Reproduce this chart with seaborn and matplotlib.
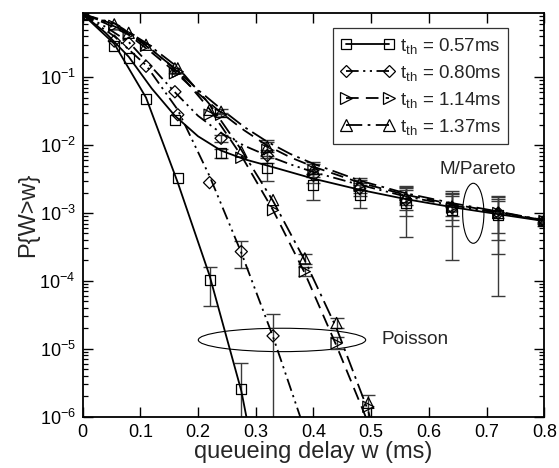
import numpy as np
import pandas as pd
import matplotlib
matplotlib.use('Agg')
import matplotlib.pyplot as plt
import seaborn as sns
from matplotlib.lines import Line2D
from matplotlib.patches import Ellipse
from matplotlib.ticker import LogLocator, MultipleLocator, NullFormatter, FuncFormatter

# ---------------- data ----------------
labels = ["0.57ms", "0.80ms", "1.14ms", "1.37ms"]

# Poisson simulation points
w_poi = [0, 0.055, 0.11, 0.165, 0.22, 0.275, 0.33, 0.385, 0.44, 0.495]
poi_sq = [0.85, 0.29, 0.048, 3.3e-3, 1.03e-4, 2.6e-6]
poi_dia = [0.85, 0.34, 0.145, 0.028, 2.8e-3, 2.7e-4, 1.55e-5]
poi_rtri = [0.85, 0.57, 0.29, 0.12, 0.028, 6.5e-3, 1.1e-3, 1.37e-4, 1.2e-5, 1.4e-6]
poi_utri = [0.85, 0.60, 0.30, 0.135, 0.033, 8.0e-3, 1.55e-3, 2.15e-4, 2.4e-5, 1.6e-6]

# Poisson analytic curves
w_poi_line = [0, 0.055, 0.11, 0.165, 0.22, 0.275, 0.33, 0.385, 0.44, 0.495, 0.55]
poi_sq_line = [0.85, 0.31, 0.05, 2.8e-3, 1.2e-4, 2.4e-6, 1e-8]
poi_dia_line = [0.85, 0.40, 0.15, 0.033, 3.5e-3, 2.6e-4, 1.5e-5, 6.3e-7, 1e-8]
poi_rtri_line = [0.85, 0.60, 0.30, 0.12, 0.034, 7.0e-3, 1.1e-3, 1.3e-4, 1.1e-5, 8e-7, 1e-8]
poi_utri_line = [0.85, 0.62, 0.32, 0.14, 0.040, 8.5e-3, 1.5e-3, 2.0e-4, 2.0e-5, 1.2e-6, 2e-8]

# M/Pareto simulation points
w_par = [0, 0.08, 0.16, 0.24, 0.32, 0.40, 0.48, 0.56, 0.64, 0.72, 0.80]
par_sq = [0.85, 0.19, 0.0234, 7.6e-3, 4.55e-3, 2.6e-3, 1.85e-3, 1.4e-3, 1.1e-3, 9.5e-4, 7.5e-4]
par_dia = [0.85, 0.316, 0.061, 0.0126, 7.0e-3, 3.6e-3, 2.3e-3, 1.55e-3, 1.2e-3, 1.0e-3, 7.6e-4]
par_rtri = [0.85, 0.42, 0.114, 0.028, 8.5e-3, 4.2e-3, 2.5e-3, 1.6e-3, 1.2e-3, 1.0e-3, 7.6e-4]
par_utri = [0.85, 0.45, 0.135, 0.031, 9.5e-3, 4.5e-3, 2.7e-3, 1.7e-3, 1.25e-3, 1.0e-3, 7.7e-4]

# M/Pareto error bars (lower / upper), NaN = none
par_sq_lo = [np.nan, np.nan, np.nan, 6.5e-3, 3.0e-3, 1.55e-3, 1.2e-3, 4.4e-4, 2.0e-4, 6.0e-5, 6.5e-4]
par_sq_hi = [np.nan, np.nan, np.nan, 8.8e-3, 6.5e-3, 3.8e-3, 2.6e-3, 2.5e-3, 2.1e-3, 1.8e-3, 8.5e-4]
par_dia_lo = [np.nan, np.nan, np.nan, 1.1e-2, 5.5e-3, 2.8e-3, 1.8e-3, 9.0e-4, 6.5e-4, 2.5e-4, 7.0e-4]
par_dia_hi = [np.nan, np.nan, np.nan, 1.4e-2, 8.5e-3, 4.5e-3, 2.8e-3, 2.2e-3, 1.8e-3, 1.5e-3, 8.2e-4]
par_rtri_lo = [np.nan, np.nan, np.nan, 2.6e-2, 7.0e-3, 3.4e-3, 2.0e-3, 1.1e-3, 8.0e-4, 4.0e-4, 7.2e-4]
par_rtri_hi = [np.nan, np.nan, np.nan, 3.0e-2, 1.1e-2, 5.3e-3, 3.1e-3, 2.3e-3, 1.9e-3, 1.6e-3, 8.2e-4]
par_utri_lo = [np.nan, np.nan, np.nan, 2.9e-2, 8.0e-3, 3.8e-3, 2.2e-3, 1.3e-3, 9.0e-4, 5.0e-4, 7.3e-4]
par_utri_hi = [np.nan, np.nan, np.nan, 3.4e-2, 1.2e-2, 5.6e-3, 3.3e-3, 2.4e-3, 2.0e-3, 1.7e-3, 8.3e-4]

# M/Pareto analytic curves
w_par_line = [0, 0.04, 0.08, 0.12, 0.16, 0.20, 0.24, 0.28, 0.32, 0.36, 0.40, 0.48, 0.56, 0.64, 0.72, 0.80]
par_sq_line = [0.85, 0.45, 0.20, 0.068, 0.027, 0.0135, 8.3e-3, 6.2e-3, 5.0e-3, 4.0e-3, 3.2e-3, 2.2e-3, 1.6e-3, 1.22e-3, 9.6e-4, 7.6e-4]
par_dia_line = [0.85, 0.55, 0.33, 0.14, 0.060, 0.027, 0.015, 9.8e-3, 7.0e-3, 5.2e-3, 4.0e-3, 2.6e-3, 1.75e-3, 1.3e-3, 1.0e-3, 7.7e-4]
par_rtri_line = [0.85, 0.62, 0.42, 0.23, 0.12, 0.058, 0.030, 0.0165, 9.8e-3, 6.6e-3, 4.8e-3, 2.8e-3, 1.85e-3, 1.35e-3, 1.03e-3, 7.8e-4]
par_utri_line = [0.85, 0.64, 0.45, 0.25, 0.135, 0.065, 0.034, 0.0185, 0.0112, 7.4e-3, 5.3e-3, 3.0e-3, 1.95e-3, 1.4e-3, 1.05e-3, 7.8e-4]

# Poisson error bars: (w, lower, upper)
poi_err_w = [0.22, 0.275, 0.275, 0.33, 0.385, 0.385, 0.44, 0.44, 0.495]
poi_err_lo = [4.2e-5, 1e-7, 1.54e-4, 1e-7, 1.8e-4, 1.2e-4, 2.0e-5, 1.0e-5, 1e-7]
poi_err_hi = [1.6e-4, 6.1e-6, 3.9e-4, 3.3e-5, 2.5e-4, 1.6e-4, 2.8e-5, 1.5e-5, 2.1e-6]

# ---------------- style ----------------
sns.set_theme(style='ticks')
plt.rcParams['font.family'] = ['Liberation Sans', 'DejaVu Sans']
plt.rcParams['mathtext.fontset'] = 'custom'
plt.rcParams['mathtext.rm'] = 'Liberation Sans'
plt.rcParams['mathtext.it'] = 'Liberation Sans'
plt.rcParams['mathtext.bf'] = 'Liberation Sans:bold'

fig = plt.figure(figsize=(5.59, 4.68), dpi=100)
ax = fig.add_axes([0.1476, 0.1096, 0.8264, 0.8633])

styles = [
    dict(marker='s', ls='-', ms=7.2),
    dict(marker='D', ls=(0, (7, 2.5, 1.2, 2.5, 1.2, 2.5)), ms=6.2),
    dict(marker='>', ls=(0, (7, 4)), ms=8.0),
    dict(marker='^', ls=(0, (9, 3, 1.5, 3)), ms=8.0),
]

poi_pts = [poi_sq, poi_dia, poi_rtri, poi_utri]
poi_lines = [poi_sq_line, poi_dia_line, poi_rtri_line, poi_utri_line]
par_pts = [par_sq, par_dia, par_rtri, par_utri]
par_lines = [par_sq_line, par_dia_line, par_rtri_line, par_utri_line]
par_lo = [par_sq_lo, par_dia_lo, par_rtri_lo, par_utri_lo]
par_hi = [par_sq_hi, par_dia_hi, par_rtri_hi, par_utri_hi]

errc = '#3a3a3a'
for lo, hi, vals in zip(par_lo, par_hi, par_pts):
    df = pd.DataFrame({'w': w_par, 'p': vals, 'lo': lo, 'hi': hi}).dropna()
    ax.errorbar(df['w'], df['p'], yerr=[df['p'] - df['lo'], df['hi'] - df['p']],
                fmt='none', ecolor=errc, elinewidth=1.0, capsize=5, capthick=1.0, zorder=2)
for wv, lo, hi in zip(poi_err_w, poi_err_lo, poi_err_hi):
    mid = np.sqrt(lo * hi)
    ax.errorbar([wv], [mid], yerr=[[mid - lo], [hi - mid]], fmt='none', ecolor=errc,
                elinewidth=1.0, capsize=5, capthick=1.0, zorder=2)

def draw_line(wgrid, vals, ls):
    n = len(vals)
    d = pd.DataFrame({'w': wgrid[:n], 'p': vals})
    sns.lineplot(data=d, x='w', y='p', ax=ax, color='black', lw=1.3, sort=False,
                 estimator=None, zorder=3)
    ax.lines[-1].set_linestyle(ls)

def draw_pts(wgrid, vals, st):
    n = len(vals)
    d = pd.DataFrame({'w': wgrid[:n], 'p': vals})
    sns.scatterplot(data=d, x='w', y='p', ax=ax, marker=st['marker'], s=st['ms'] ** 2,
                    facecolor='none', edgecolor='black', linewidth=0.9, zorder=4)

for i, st in enumerate(styles):
    draw_line(w_poi_line, poi_lines[i], st['ls'])
    draw_line(w_par_line, par_lines[i], st['ls'])
    draw_pts(w_poi, poi_pts[i], st)
    draw_pts(w_par, par_pts[i], st)

for coll in ax.collections:
    if coll.__class__.__name__ == 'PathCollection':
        coll.set_facecolor('none')
        coll.set_edgecolor('black')

ax.set_yscale('log')
ax.set_xlim(0, 0.8)
ax.set_ylim(1e-6, 0.891)

ax.xaxis.set_major_locator(MultipleLocator(0.1))
ax.xaxis.set_major_formatter(FuncFormatter(lambda v, _: '0' if abs(v) < 1e-9 else f'{v:.1f}'))
ax.yaxis.set_major_locator(LogLocator(base=10, numticks=20))
ax.yaxis.set_minor_locator(LogLocator(base=10, subs=np.arange(2, 10), numticks=40))
ax.yaxis.set_minor_formatter(NullFormatter())

ax.tick_params(which='both', direction='in', top=True, right=True, colors='black')
ax.tick_params(which='major', length=7.5, width=1.0, labelsize=13, pad=5)
ax.tick_params(which='minor', length=3.8, width=0.9)
for sp in ax.spines.values():
    sp.set_linewidth(1.3)
    sp.set_color('black')

ax.set_xlabel('queueing delay w (ms)', fontsize=17, labelpad=0)
ax.set_ylabel('P{W>w}', fontsize=17, labelpad=0)

# annotations
ax.add_patch(Ellipse((0.4318, 0.19), 0.3623, 0.0579, transform=ax.transAxes,
                     fill=False, edgecolor='black', lw=0.8))
ax.add_patch(Ellipse((0.8459, 0.5035), 0.0461, 0.1485, transform=ax.transAxes,
                     fill=False, edgecolor='black', lw=0.8))
ax.text(0.6476, 0.19, 'Poisson', transform=ax.transAxes, fontsize=13.7, va='center', ha='left')
ax.text(0.7723, 0.6125, 'M/Pareto', transform=ax.transAxes, fontsize=13.7, va='center', ha='left')

handles = [Line2D([], [], color='black', lw=1.3, linestyle=st['ls'], marker=st['marker'],
                  markersize=st['ms'], markerfacecolor='none', markeredgecolor='black',
                  markeredgewidth=0.9) for st in styles]
leg_labels = [r'$\mathregular{t_{th}}$ = ' + l for l in labels]
leg = ax.legend(handles, leg_labels, numpoints=2, handlelength=2.9, loc='upper right',
                bbox_to_anchor=(0.921, 0.962), borderaxespad=0, fontsize=13.5,
                frameon=True, fancybox=False, labelspacing=0.38, handletextpad=0.25,
                borderpad=0.4)
leg.get_frame().set_edgecolor('black')
leg.get_frame().set_linewidth(0.9)

fig.savefig('out.png', dpi=100)
